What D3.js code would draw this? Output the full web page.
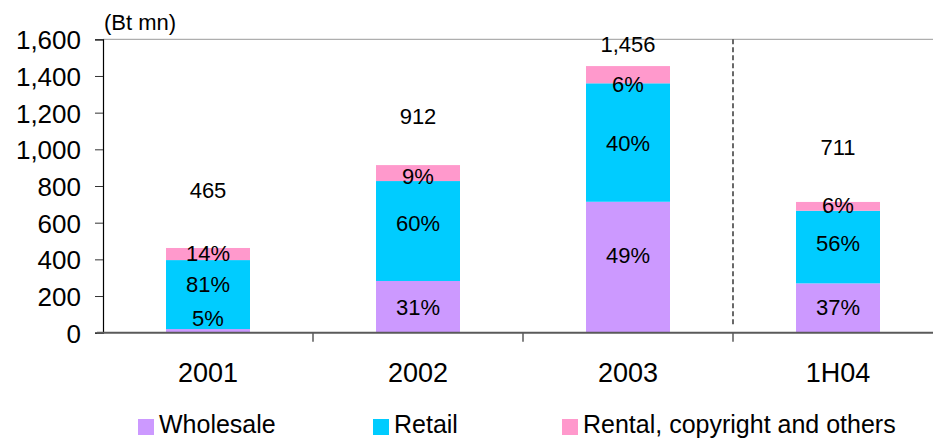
<!DOCTYPE html>
<html>
<head>
<meta charset="utf-8">
<script src="https://cdn.jsdelivr.net/npm/d3@7"></script>
<style>
  html, body { margin: 0; padding: 0; background: #fff; }
  svg { display: block; font-family: "Liberation Sans", Arial, sans-serif; }
</style>
</head>
<body>
<svg id="chart" width="933" height="439"></svg>
<script>
// ---- data ----
const categories = ["2001", "2002", "2003", "1H04"];
const wholesale = [20, 282, 714, 269];
const retail = [376, 545, 646, 396];
const rental = [66, 87, 94, 48];
const totals = [465, 912, 1456, 711];
const wholesalePct = ["5%", "31%", "49%", "37%"];
const retailPct = ["81%", "60%", "40%", "56%"];
const rentalPct = ["14%", "9%", "6%", "6%"];
// label anchor levels (in Bt mn, as placed in the source chart)
const wholesaleLabelAt = [80, 142, 424, 142];
const retailLabelAt = [266, 600, 1034, 491];
const rentalLabelAt = [435, 854, 1355, 696];
const totalLabelAt = [778, 1182, 1575, 1014];
const yTicks = [0, 200, 400, 600, 800, 1000, 1200, 1400, 1600];
const seriesNames = ["Wholesale", "Retail", "Rental, copyright and others"];
const unitLabel = "(Bt mn)";

// ---- setup ----
const colors = ["#CC99FF", "#00CCFF", "#FF99CC"];
const svg = d3.select("#chart");
const mLeft = 103, mRight = 943, mTop = 39.3, mBottom = 332.7;

const x = d3.scaleBand().domain(categories).range([mLeft, mRight]).paddingInner(0.6).paddingOuter(0.3);
const xb = d3.scaleBand().domain(categories).range([mLeft, mRight]).padding(0);
const y = d3.scaleLinear().domain([0, 1600]).range([mBottom, mTop]);

const rows = categories.map((c, i) => ({ cat: c, Wholesale: wholesale[i], Retail: retail[i], Rental: rental[i] }));
const stack = d3.stack().keys(["Wholesale", "Retail", "Rental"])(rows);

// top border line
svg.append("line").attr("x1", mLeft).attr("x2", 933).attr("y1", y(1600)).attr("y2", y(1600))
  .attr("stroke", "#9a9a9a").attr("stroke-width", 1);

// bars
stack.forEach((layer, k) => {
  svg.append("g").selectAll("rect").data(layer).join("rect")
    .attr("x", d => x(d.data.cat))
    .attr("width", x.bandwidth())
    .attr("y", d => y(d[1]))
    .attr("height", d => y(d[0]) - y(d[1]))
    .attr("fill", colors[k]);
});

// dashed separator before 1H04
svg.append("line")
  .attr("x1", xb("1H04")).attr("x2", xb("1H04"))
  .attr("y1", y(1600)).attr("y2", y(30))
  .attr("stroke", "#444").attr("stroke-width", 1.6).attr("stroke-dasharray", "5,3");

// y axis
const yAxis = d3.axisLeft(y).tickValues(yTicks).tickFormat(d3.format(",")).tickSize(8).tickPadding(14);
const gy = svg.append("g").attr("transform", `translate(${mLeft},0)`).call(yAxis);
gy.select(".domain").attr("stroke", "#000").attr("stroke-width", 1.2);
gy.selectAll(".tick line").attr("stroke", "#333");
gy.selectAll(".tick text").attr("font-size", 26).attr("fill", "#000")
  .attr("font-family", "'Liberation Sans', Arial, sans-serif").attr("dy", "0.36em");

// x axis baseline
svg.append("line").attr("x1", mLeft - 6).attr("x2", 933).attr("y1", mBottom).attr("y2", mBottom)
  .attr("stroke", "#5a5a5a").attr("stroke-width", 2);
// category boundary ticks
svg.append("g").selectAll("line").data(categories.slice(1)).join("line")
  .attr("x1", d => xb(d)).attr("x2", d => xb(d))
  .attr("y1", mBottom).attr("y2", mBottom + 9)
  .attr("stroke", "#5a5a5a").attr("stroke-width", 1.5);
// category labels
svg.append("g").selectAll("text").data(categories).join("text")
  .attr("x", d => x(d) + x.bandwidth() / 2)
  .attr("y", 372)
  .attr("dy", "0.36em")
  .attr("text-anchor", "middle")
  .attr("font-size", 27)
  .text(d => d);

// value labels
function labels(levels, texts) {
  svg.append("g").selectAll("text").data(categories).join("text")
    .attr("x", (d, i) => x(d) + x.bandwidth() / 2)
    .attr("y", (d, i) => y(levels[i]))
    .attr("dy", "0.36em")
    .attr("text-anchor", "middle")
    .attr("font-size", 22)
    .text((d, i) => texts[i]);
}
labels(wholesaleLabelAt, wholesalePct);
labels(retailLabelAt, retailPct);
labels(rentalLabelAt, rentalPct);
labels(totalLabelAt, totals.map(d3.format(",")));

// unit label
svg.append("text").attr("x", 104).attr("y", 22).attr("dy", "0.36em")
  .attr("font-size", 22).text(unitLabel);

// legend
const legendX = [138, 373, 562];
const lg = svg.append("g").selectAll("g").data(seriesNames).join("g")
  .attr("transform", (d, i) => `translate(${legendX[i]},0)`);
lg.append("rect").attr("x", 0).attr("y", 419).attr("width", 16).attr("height", 16)
  .attr("fill", (d, i) => colors[i]);
lg.append("text").attr("x", 21).attr("y", 433).attr("font-size", 25)
  .text(d => d);
</script>
</body>
</html>
